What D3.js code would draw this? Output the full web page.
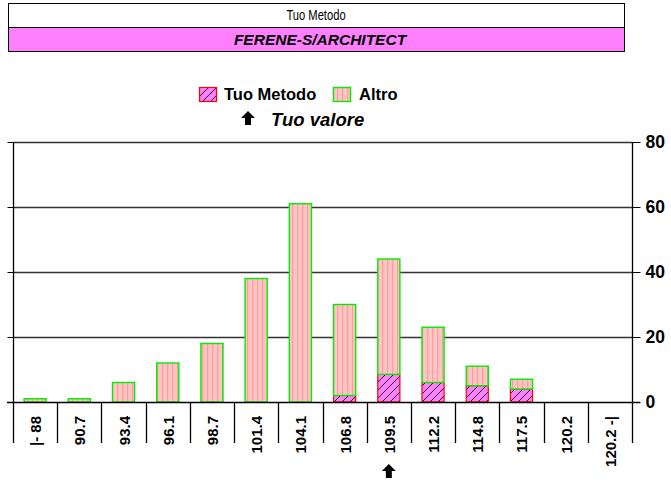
<!DOCTYPE html>
<html>
<head>
<meta charset="utf-8">
<script src="https://cdn.jsdelivr.net/npm/d3@7"></script>
<style>
  body { margin: 0; background: #fff; }
  svg { display: block; font-family: "Liberation Sans", Arial, sans-serif; }
</style>
</head>
<body>
<div id="chart"></div>
<script>
// categories (bin labels) and values
const categories = ["|- 88", "90.7", "93.4", "96.1", "98.7", "101.4", "104.1", "106.8", "109.5", "112.2", "114.8", "117.5", "120.2", "120.2 -|"];
const tuoMetodo = [0, 0, 0, 0, 0, 0, 0, 2, 8.5, 6, 5, 4, 0, 0];
const altro =     [1, 1, 6, 12, 18, 38, 61, 28, 35.5, 17, 6, 3, 0, 0];
const yTicks = [0, 20, 40, 60, 80];
const yourValue = "109.5";

const W = 671, H = 481;
const svg = d3.select("#chart").append("svg").attr("width", W).attr("height", H);

// patterns
const defs = svg.append("defs");
const pTuo = defs.append("pattern").attr("id", "hatchTuo")
  .attr("patternUnits", "userSpaceOnUse").attr("width", 8).attr("height", 8);
pTuo.append("rect").attr("width", 8).attr("height", 8).attr("fill", "#ff80ff");
pTuo.append("path").attr("d", "M0,8 L8,0 M-2,2 L2,-2 M6,10 L10,6")
  .attr("stroke", "#000").attr("stroke-width", 0.9);
const pAltro = defs.append("pattern").attr("id", "stripeAltro")
  .attr("patternUnits", "userSpaceOnUse").attr("width", 5).attr("height", 5);
pAltro.append("rect").attr("width", 5).attr("height", 5).attr("fill", "#ffc4c4");
pAltro.append("rect").attr("x", 2).attr("width", 1.2).attr("height", 5).attr("fill", "#ff9c9c");

// header boxes
svg.append("rect").attr("x", 8.5).attr("y", 3.5).attr("width", 616).attr("height", 24)
  .attr("fill", "#fff").attr("stroke", "#000");
svg.append("rect").attr("x", 8.5).attr("y", 27.5).attr("width", 616).attr("height", 24)
  .attr("fill", "#ff80ff").attr("stroke", "#000");
svg.append("text").attr("transform", "translate(316,20) scale(0.8,1)").attr("text-anchor", "middle")
  .attr("font-size", 14).text("Tuo Metodo");
svg.append("text").attr("x", 320).attr("y", 45).attr("text-anchor", "middle")
  .attr("font-size", 15.5).attr("font-weight", "bold").attr("font-style", "italic")
  .text("FERENE-S/ARCHITECT");

// scales
const x = d3.scaleBand().domain(categories).range([13, 632]).padding(0);
const y = d3.scaleLinear().domain([0, 80]).range([402, 142]);
const bw = x.bandwidth() / 2;

// gridlines
svg.append("g").selectAll("line").data(yTicks.slice(1)).join("line")
  .attr("x1", 13).attr("x2", 632)
  .attr("y1", d => Math.round(y(d)) + 0.5).attr("y2", d => Math.round(y(d)) + 0.5)
  .attr("stroke", "#333").attr("stroke-width", 1.3);

// stacked bars
const stacked = categories.map((c, i) => ({ c, tuo: tuoMetodo[i], altro: altro[i] }));
const g = svg.append("g");
g.selectAll("rect.tuo").data(stacked.filter(d => d.tuo > 0)).join("rect")
  .attr("class", "tuo")
  .attr("x", d => x(d.c) + bw / 2).attr("width", bw)
  .attr("y", d => y(d.tuo)).attr("height", d => y(0) - y(d.tuo))
  .attr("fill", "url(#hatchTuo)").attr("stroke", "#ff0000").attr("stroke-width", 1.2);
g.selectAll("rect.altro").data(stacked.filter(d => d.altro > 0)).join("rect")
  .attr("class", "altro")
  .attr("x", d => x(d.c) + bw / 2).attr("width", bw)
  .attr("y", d => y(d.tuo + d.altro)).attr("height", d => y(d.tuo) - y(d.tuo + d.altro))
  .attr("fill", "url(#stripeAltro)").attr("stroke", "#00ee00").attr("stroke-width", 1.4);

// left axis (ticks only)
svg.append("g").attr("transform", "translate(13.5,0)")
  .call(d3.axisLeft(y).tickValues(yTicks).tickSize(6).tickFormat(""))
  .call(a => a.select(".domain").remove())
  .call(a => a.selectAll("line").attr("stroke", "#000"));
svg.append("line").attr("x1", 13.5).attr("x2", 13.5).attr("y1", 142).attr("y2", 443)
  .attr("stroke", "#000").attr("stroke-width", 1.3);

// right axis
svg.append("g").attr("transform", "translate(632.5,0)")
  .call(d3.axisRight(y).tickValues(yTicks).tickSize(8).tickPadding(5))
  .call(a => a.select(".domain").remove())
  .call(a => a.selectAll("line").attr("stroke", "#000"))
  .call(a => a.selectAll("text").attr("font-size", 17.5).attr("font-weight", "bold")
    .attr("font-family", "Liberation Sans, Arial, sans-serif").attr("fill", "#000"));
svg.append("line").attr("x1", 632.5).attr("x2", 632.5).attr("y1", 142).attr("y2", 443)
  .attr("stroke", "#000").attr("stroke-width", 1.3);

// x baseline
svg.append("line").attr("x1", 7).attr("x2", 640).attr("y1", 402.5).attr("y2", 402.5)
  .attr("stroke", "#000").attr("stroke-width", 1.5);

// category separators and labels
svg.append("g").selectAll("line").data(categories.slice(1)).join("line")
  .attr("x1", d => Math.round(x(d)) + 0.5).attr("x2", d => Math.round(x(d)) + 0.5)
  .attr("y1", 402).attr("y2", 443).attr("stroke", "#000").attr("stroke-width", 1.3);
svg.append("g").selectAll("text").data(categories).join("text")
  .attr("transform", d => `translate(${x(d) + x.bandwidth() / 2 + 6},416) rotate(-90)`)
  .attr("text-anchor", "end").attr("font-size", 15).attr("font-weight", "bold")
  .text(d => d);

// arrows
const arrowPath = "M0,-7 L7,0 L3,0 L3,7 L-3,7 L-3,0 L-7,0 Z";
svg.append("path").attr("d", arrowPath)
  .attr("transform", `translate(${x(yourValue) + x.bandwidth() / 2},471)`).attr("fill", "#000");

// legend
const leg = svg.append("g");
leg.append("rect").attr("x", 199.5).attr("y", 87.5).attr("width", 17).attr("height", 14)
  .attr("fill", "url(#hatchTuo)").attr("stroke", "#ff0000").attr("stroke-width", 1.2);
leg.append("text").attr("x", 224).attr("y", 100).attr("font-size", 16.5).attr("font-weight", "bold")
  .text("Tuo Metodo");
leg.append("rect").attr("x", 333.5).attr("y", 87.5).attr("width", 17).attr("height", 14)
  .attr("fill", "url(#stripeAltro)").attr("stroke", "#00ee00").attr("stroke-width", 1.4);
leg.append("text").attr("x", 359).attr("y", 100).attr("font-size", 16.5).attr("font-weight", "bold")
  .text("Altro");
leg.append("path").attr("d", arrowPath).attr("transform", "translate(248,118)").attr("fill", "#000");
leg.append("text").attr("x", 271).attr("y", 126).attr("font-size", 18.5).attr("font-weight", "bold")
  .attr("font-style", "italic").text("Tuo valore");
</script>
</body>
</html>
